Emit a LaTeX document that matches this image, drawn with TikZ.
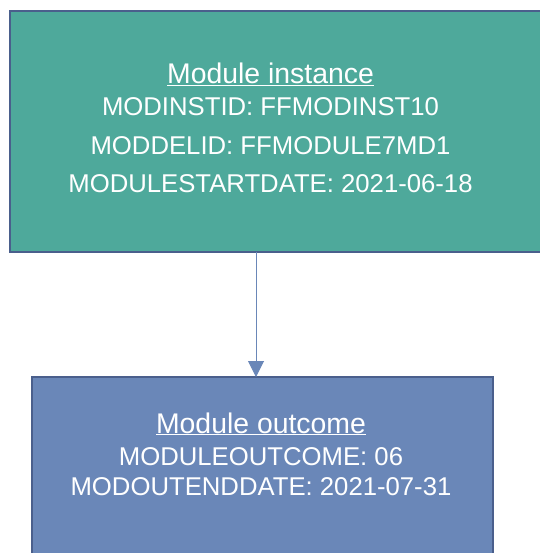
\documentclass[tikz,border=0pt]{standalone}
\usepackage{fontspec}
\setmainfont{Liberation Sans}
\usetikzlibrary{arrows.meta}
\definecolor{instfill}{HTML}{4EA99B}
\definecolor{outfill}{HTML}{6A87B8}
\definecolor{boxline}{HTML}{4A5F8C}

\begin{document}
\begin{tikzpicture}[x=1pt,y=-1pt]
 \tikzstyle{every node}=[inner sep=0pt, outer sep=0pt]
 \tikzstyle{box}=[draw=boxline, line width=2.5pt, rectangle]
 \tikzstyle{head}=[text=white, anchor=base, font=\fontsize{28.4}{30}\selectfont]
 \tikzstyle{field}=[text=white, anchor=base, font=\fontsize{25.7}{28}\selectfont]
 \useasboundingbox (0,0) rectangle (539,553);
 \node[box, fill=instfill, minimum width=540pt, minimum height=241pt] (inst) at (280,131.5) {};
 \node[box, fill=outfill, minimum width=461pt, minimum height=203pt] (outc) at (262.5,478.5) {};
 \node[head]  (insthead) at (270.5,84)  {\underline{Module instance}};
 \node[field] (instid)   at (270.5,116) {MODINSTID: FFMODINST10};
 \node[field] (modelid)  at (270.5,155) {MODDELID: FFMODULE7MD1};
 \node[field] (start)    at (270.5,193) {MODULESTARTDATE: 2021-06-18};
 \node[head]  (outhead)  at (261,433)   {\underline{Module outcome}};
 \node[field] (outcome)  at (261,465)   {MODULEOUTCOME: 06};
 \node[field] (enddate)  at (261,495)   {MODOUTENDDATE: 2021-07-31};
 \coordinate (link) at (256,0);
  \draw[outfill, line width=1pt, -{Triangle[width=16pt,length=16pt]}] (inst.south -| link) to (outc.north -| link);
\end{tikzpicture}
\end{document}
